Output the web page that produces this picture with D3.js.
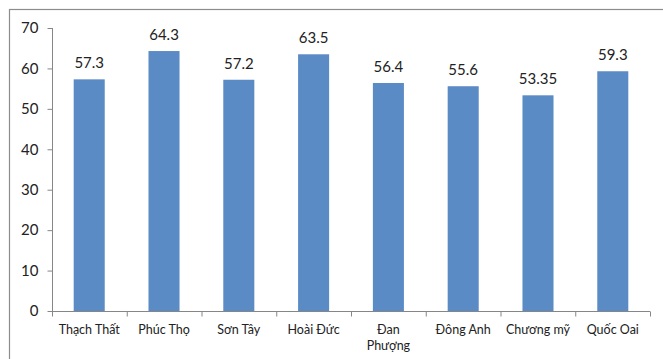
<!DOCTYPE html>
<html><head><meta charset="utf-8">
<script src="https://cdn.jsdelivr.net/npm/d3@7"></script>
<style>body{margin:0;background:#fff}svg{display:block}</style>
</head><body><svg id="c" width="663" height="359"></svg>
<script>
const categories = ["Thạch Thất","Phúc Thọ","Sơn Tây","Hoài Đức","Đan\nPhượng","Đông Anh","Chương mỹ","Quốc Oai"];
const values = [57.3,64.3,57.2,63.5,56.4,55.6,53.35,59.3];
const valueLabels = ["57.3","64.3","57.2","63.5","56.4","55.6","53.35","59.3"];
const yTicks = [0,10,20,30,40,50,60,70];

const svg = d3.select("#c");
const font = "Lato, 'Open Sans', sans-serif";
svg.append("rect").attr("x",9.5).attr("y",9.5).attr("width",800).attr("height",500)
  .attr("fill","none").attr("stroke","#8c8c8c").attr("stroke-width",1.2);

const x = d3.scaleBand().domain(categories).range([52,650]).paddingInner(0.585).paddingOuter(0.29);
const y = d3.scaleLinear().domain([0,70]).range([311,28]);

svg.selectAll("rect.bar").data(values).join("rect").attr("class","bar")
  .attr("x",(d,i)=>x(categories[i])).attr("width",x.bandwidth())
  .attr("y",d=>y(d)).attr("height",d=>y(0)-y(d)).attr("fill","#5b8bc5");

svg.selectAll("text.val").data(values).join("text").attr("class","val")
  .attr("x",(d,i)=>x(categories[i])+x.bandwidth()/2).attr("y",d=>y(d)-11)
  .attr("text-anchor","middle").attr("font-family",font).attr("font-size",15).attr("fill","#222")
  .text((d,i)=>valueLabels[i]);

// y axis
const ya = svg.append("g").attr("transform","translate(52.5,0)")
  .call(d3.axisLeft(y).tickValues(yTicks).tickSize(5).tickPadding(9).tickFormat(d3.format("d")));
ya.select(".domain").attr("stroke","#868686").attr("d","M0,"+y(70)+"V"+(y(0)+0.5));
ya.selectAll(".tick line").attr("stroke","#868686");
ya.selectAll(".tick text").attr("font-family",font).attr("font-size",15).attr("fill","#222");

// x axis
const xa = svg.append("g").attr("transform","translate(0,"+(y(0)+0.5)+")");
xa.append("line").attr("x1",52).attr("x2",650).attr("stroke","#868686");
const bounds = categories.map(c=>x(c)-x.step()*x.paddingInner()/2 - (0)).concat([650]);
const step = (650-52)/categories.length;
xa.selectAll("line.t").data(d3.range(categories.length+1)).join("line").attr("class","t")
  .attr("x1",i=>52+i*step+0.5).attr("x2",i=>52+i*step+0.5).attr("y1",0).attr("y2",5).attr("stroke","#868686");
const lab = xa.selectAll("text.cat").data(categories).join("text").attr("class","cat")
  .attr("x",d=>x(d)+x.bandwidth()/2).attr("y",22)
  .attr("text-anchor","middle").attr("font-family",font).attr("font-size",12.5).attr("fill","#222");
lab.each(function(d){
  const t=d3.select(this);
  d.split("\n").forEach((s,k)=>t.append("tspan").attr("x",t.attr("x")).attr("dy",k?16:0).text(s));
});
</script></body></html>
